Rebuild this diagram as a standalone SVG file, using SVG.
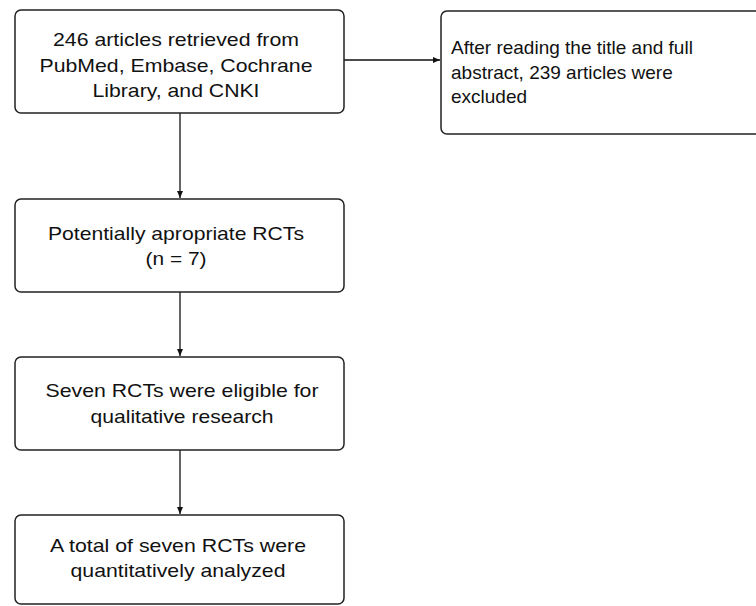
<svg xmlns="http://www.w3.org/2000/svg" width="756" height="606" viewBox="0 0 756 606">
<style>
.box{fill:#fff;stroke:#222;stroke-width:1.5}
.t{font-family:"Liberation Sans",Arial,sans-serif;font-size:19px;fill:#111}
.c{text-anchor:middle}
.ln{stroke:#111;stroke-width:1.3;fill:none}
</style>
<defs>
<marker id="ah" markerWidth="8" markerHeight="8" refX="7" refY="4" orient="auto" markerUnits="userSpaceOnUse">
<path d="M0,1 L7,4 L0,7 Z" fill="#111"/>
</marker>
</defs>
<rect width="756" height="606" fill="#fff"/>
<g id="connectors">
<line class="ln" x1="180" y1="113" x2="180" y2="198" marker-end="url(#ah)"/>
<line class="ln" x1="180" y1="292" x2="180" y2="356" marker-end="url(#ah)"/>
<line class="ln" x1="180" y1="450" x2="180" y2="514" marker-end="url(#ah)"/>
<line class="ln" x1="344" y1="60" x2="440" y2="60" marker-end="url(#ah)"/>
</g>
<g id="n1">
<rect class="box" x="15" y="10" width="329" height="103" rx="6"/>
<text class="t c" x="176" y="46" textLength="246" lengthAdjust="spacingAndGlyphs">246 articles retrieved from</text>
<text class="t c" x="176" y="71.5" textLength="273" lengthAdjust="spacingAndGlyphs">PubMed, Embase, Cochrane</text>
<text class="t c" x="176" y="97" textLength="167" lengthAdjust="spacingAndGlyphs">Library, and CNKI</text>
</g>
<g id="n2">
<rect class="box" x="441" y="11" width="330" height="123" rx="6"/>
<text class="t" x="451" y="54">After reading the title and full</text>
<text class="t" x="451" y="78.5">abstract, 239 articles were</text>
<text class="t" x="451" y="103">excluded</text>
</g>
<g id="n3">
<rect class="box" x="15" y="199" width="329" height="93" rx="6"/>
<text class="t c" x="176" y="240" textLength="256" lengthAdjust="spacingAndGlyphs">Potentially apropriate RCTs</text>
<text class="t c" x="176" y="265" textLength="61" lengthAdjust="spacingAndGlyphs">(n = 7)</text>
</g>
<g id="n4">
<rect class="box" x="15" y="357" width="329" height="93" rx="6"/>
<text class="t c" x="182" y="397" textLength="273" lengthAdjust="spacingAndGlyphs">Seven RCTs were eligible for</text>
<text class="t c" x="182" y="423" textLength="183" lengthAdjust="spacingAndGlyphs">qualitative research</text>
</g>
<g id="n5">
<rect class="box" x="15" y="515" width="329" height="89" rx="6"/>
<text class="t c" x="178" y="552" textLength="256" lengthAdjust="spacingAndGlyphs">A total of seven RCTs were</text>
<text class="t c" x="178" y="577" textLength="215" lengthAdjust="spacingAndGlyphs">quantitatively analyzed</text>
</g>
</svg>
